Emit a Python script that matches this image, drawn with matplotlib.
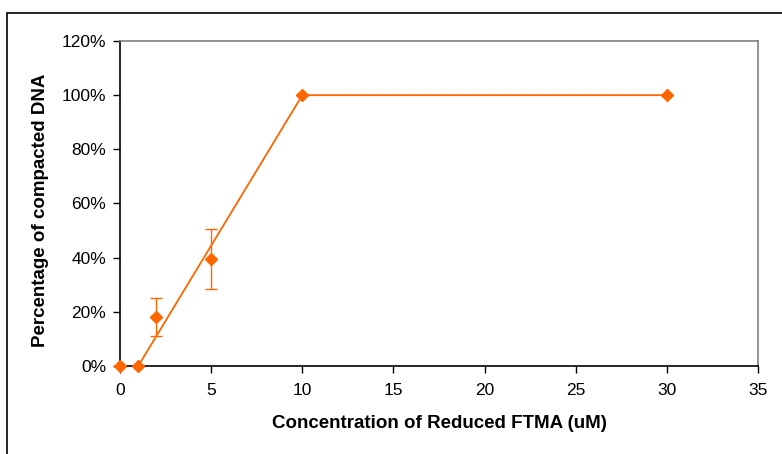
import matplotlib
matplotlib.use("Agg")
import matplotlib.pyplot as plt
from matplotlib.patches import Rectangle
from matplotlib.ticker import PercentFormatter

plt.rcParams['font.family'] = ['Liberation Sans', 'DejaVu Sans']

conc = [0, 1, 2, 5, 10, 30]
pct = [0.0, 0.0, 0.18, 0.395, 1.0, 1.0]
err = [0.0, 0.0, 0.07, 0.11, 0.0, 0.0]
fit_x = [1, 10, 30]
fit_y = [0.0, 1.0, 1.0]

xticks = [0, 5, 10, 15, 20, 25, 30, 35]
yticks = [0, 0.2, 0.4, 0.6, 0.8, 1.0, 1.2]

color = '#FF6600'

fig = plt.figure(figsize=(7.82, 4.54), dpi=100)
# outer chart frame (cropped at right/bottom)
fig.patches.append(Rectangle((7/782, -0.1), 1.2, (454-13)/454 + 0.1, transform=fig.transFigure,
                             fill=False, edgecolor='black', linewidth=1.2))

ax = fig.add_axes([120/782, (454-366)/454, (758-120)/782, (366-41)/454])
ax.plot(fit_x, fit_y, color=color, linewidth=1.3, zorder=2)
eb = ax.errorbar(conc, pct, yerr=err, fmt='D', color=color, ecolor=color, markersize=6,
                 elinewidth=1.0, capsize=4.5, capthick=1.0, zorder=3, linestyle='none')
for artist in eb.get_children():
    artist.set_clip_on(False)

ax.set_xlim(0, 35)
ax.set_ylim(0, 1.2)
ax.set_xticks(xticks)
ax.set_yticks(yticks)
ax.yaxis.set_major_formatter(PercentFormatter(1.0, decimals=0))
ax.tick_params(axis='both', direction='out', length=5, width=1, labelsize=12.5, colors='black')
ax.tick_params(axis='x', pad=7)
ax.tick_params(axis='y', pad=5)

for s in ['left', 'bottom']:
    ax.spines[s].set_color('black')
    ax.spines[s].set_linewidth(1.2)
for s in ['top', 'right']:
    ax.spines[s].set_color('#808080')
    ax.spines[s].set_linewidth(1.2)

ax.set_xlabel('Concentration of Reduced FTMA (uM)', fontsize=13.5, fontweight='bold', va='center')
ax.set_ylabel('Percentage of compacted DNA', fontsize=13.5, fontweight='bold', va='center')
ax.xaxis.set_label_coords((439 - 120) / 638, (366 - 424) / 325)
ax.yaxis.set_label_coords((40 - 120) / 638, (366 - 210) / 325)

fig.savefig('out.png', dpi=100)
